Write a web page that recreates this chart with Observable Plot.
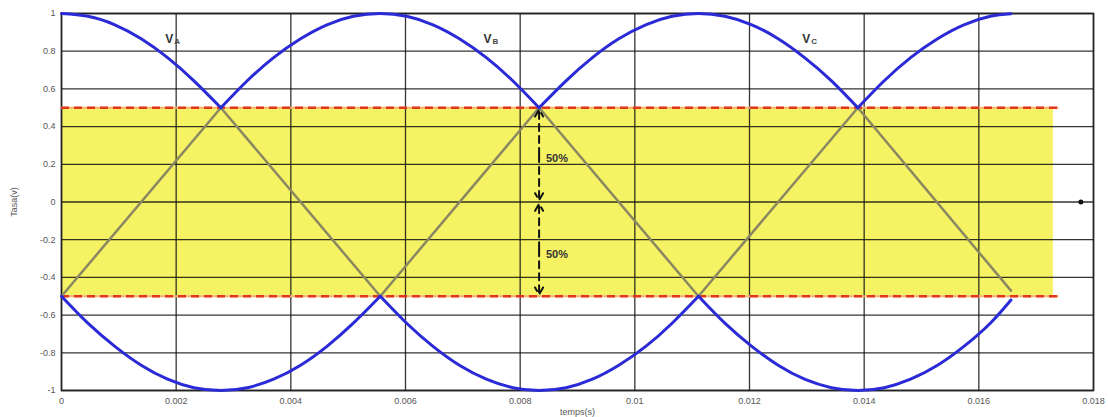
<!DOCTYPE html>
<html><head><meta charset="utf-8">
<script src="https://cdn.jsdelivr.net/npm/d3@7"></script>
<script src="https://cdn.jsdelivr.net/npm/@observablehq/plot@0.6"></script>
<style>body{margin:0;background:#fff;} svg{display:block;}</style>
</head><body><div id="chart"></div>
<script>
// sample times (s)
const times = [0, 0.00046, 0.00093, 0.00139, 0.00185, 0.00231, 0.00278, 0.00324, 0.00370, 0.00417,
  0.00463, 0.00509, 0.00556, 0.00602, 0.00648, 0.00694, 0.00741, 0.00787, 0.00833, 0.00880,
  0.00926, 0.00972, 0.01019, 0.01065, 0.01111, 0.01157, 0.01204, 0.01250, 0.01296, 0.01343,
  0.01389, 0.01435, 0.01481, 0.01528, 0.01574, 0.01620, 0.01656];
// upper envelope (blue)
const vTop = [1, 0.985, 0.940, 0.866, 0.766, 0.643, 0.5, 0.643, 0.766, 0.866,
  0.940, 0.985, 1, 0.985, 0.940, 0.866, 0.766, 0.643, 0.5, 0.643,
  0.766, 0.866, 0.940, 0.985, 1, 0.985, 0.940, 0.866, 0.766, 0.643,
  0.5, 0.643, 0.766, 0.866, 0.940, 0.985, 0.999];
// lower envelope (blue)
const vBottom = [-0.5, -0.643, -0.766, -0.866, -0.940, -0.985, -1, -0.985, -0.940, -0.866,
  -0.766, -0.643, -0.5, -0.643, -0.766, -0.866, -0.940, -0.985, -1, -0.985,
  -0.940, -0.866, -0.766, -0.643, -0.5, -0.643, -0.766, -0.866, -0.940, -0.985,
  -1, -0.985, -0.940, -0.866, -0.766, -0.643, -0.52];
// grey zig-zag
const zigT = [0, 0.00278, 0.00556, 0.00833, 0.01111, 0.01389, 0.01656];
const zigV = [-0.5, 0.5, -0.5, 0.5, -0.5, 0.5, -0.47];
// yellow band and dashed limits
const bandEnd = 0.01730;
const limitEnd = 0.01740;
const limits = [-0.5, 0.5];
// phase labels
const phaseSub = ["A", "B", "C"];
const phaseT = [0.00181, 0.00736, 0.01292];
const phaseV = [0.865, 0.865, 0.865];
// 50% annotation
const arrowT = 0.00833;
const arrowFrom = [0.25, 0.25, -0.25, -0.25];
const arrowTo = [0.49, 0.01, -0.01, -0.49];
const pctT = 0.00845;
const pctV = [0.23, -0.28];
const pctText = ["50%", "50%"];
// right-side marker
const markerT = 0.01778;
const markerV = 0;
// ticks
const xTicks = [0, 0.002, 0.004, 0.006, 0.008, 0.01, 0.012, 0.014, 0.016, 0.018];
const yTicks = [-1, -0.8, -0.6, -0.4, -0.2, 0, 0.2, 0.4, 0.6, 0.8, 1];

function segments(vals, cuspVal) {
  const out = [];
  let seg = 0;
  vals.forEach((v, i) => {
    out.push({t: times[i], v, seg});
    if (i > 0 && i < vals.length - 1 && Math.abs(v - cuspVal) < 1e-9) {
      seg++;
      out.push({t: times[i], v, seg});
    }
  });
  return out;
}
const topPts = segments(vTop, 0.5);
const botPts = segments(vBottom, -0.5);
const zig = zigT.map((t, i) => ({t, v: zigV[i]}));
const limitRows = limits.map(y => ({y, x1: 0, x2: limitEnd}));
const band = [{x1: 0, x2: bandEnd, y1: limits[0], y2: limits[1]}];
const phases = phaseSub.map((s, i) => ({s, t: phaseT[i], v: phaseV[i]}));
const arrows = arrowFrom.map((a, i) => ({x: arrowT, y1: a, y2: arrowTo[i]}));
const pcts = pctV.map((v, i) => ({t: pctT, v, s: pctText[i]}));

const chart = Plot.plot({
  width: 1108, height: 417,
  marginLeft: 61, marginRight: 15, marginTop: 13, marginBottom: 27,
  style: {fontFamily: "'Liberation Sans', Arial, sans-serif", fontSize: "9px", color: "#555", background: "#fff"},
  x: {domain: [0, 0.018]},
  y: {domain: [-1, 1]},
  marks: [
    Plot.rect(band, {x1: "x1", x2: "x2", y1: "y1", y2: "y2", fill: "#f5f263"}),
    Plot.gridX(xTicks, {stroke: "#111", strokeOpacity: 0.85, strokeWidth: 1.3}),
    Plot.gridY(yTicks, {stroke: "#111", strokeOpacity: 0.85, strokeWidth: 1.3}),
    Plot.frame({stroke: "#222", strokeWidth: 1.6}),
    Plot.ruleY(limitRows, {y: "y", x1: "x1", x2: "x2", stroke: "#f3b070", strokeWidth: 2}),
    Plot.ruleY(limitRows, {y: "y", x1: "x1", x2: "x2", stroke: "#e2371c", strokeWidth: 2.5, strokeDasharray: "8,5"}),
    Plot.line(zig, {x: "t", y: "v", stroke: "#8a8762", strokeWidth: 2.5}),
    Plot.line(topPts, {x: "t", y: "v", z: "seg", curve: "natural", stroke: "#2a2ad6", strokeWidth: 3}),
    Plot.line(botPts, {x: "t", y: "v", z: "seg", curve: "natural", stroke: "#2a2ad6", strokeWidth: 3}),
    Plot.arrow(arrows, {x1: "x", x2: "x", y1: "y1", y2: "y2", stroke: "#111", strokeWidth: 2, strokeDasharray: "7,5", headLength: 6}),
    Plot.text(pcts, {x: "t", y: "v", text: "s", textAnchor: "start", fontSize: 11, fontWeight: "bold", fill: "#333"}),
    Plot.text(phases, {x: "t", y: "v", text: () => "V", textAnchor: "start", fontSize: 12, fontWeight: "bold", fill: "#333"}),
    Plot.text(phases, {x: "t", y: "v", text: "s", textAnchor: "start", dx: 9, dy: 2, fontSize: 8, fontWeight: "bold", fill: "#444"}),
    Plot.dot([{t: markerT, v: markerV}], {x: "t", y: "v", r: 2.5, fill: "#111"}),
    Plot.axisX(xTicks, {tickSize: 0, tickPadding: 7, tickFormat: d => String(+d.toFixed(3)), label: "temps(s)", labelAnchor: "center", labelArrow: "none", labelOffset: 24}),
    Plot.axisY(yTicks, {tickSize: 0, tickPadding: 6, tickFormat: d => String(+d.toFixed(1)), label: "Tasa(v)", labelAnchor: "center", labelArrow: "none", labelOffset: 51})
  ]
});
document.getElementById("chart").appendChild(chart);
</script>
</body></html>
